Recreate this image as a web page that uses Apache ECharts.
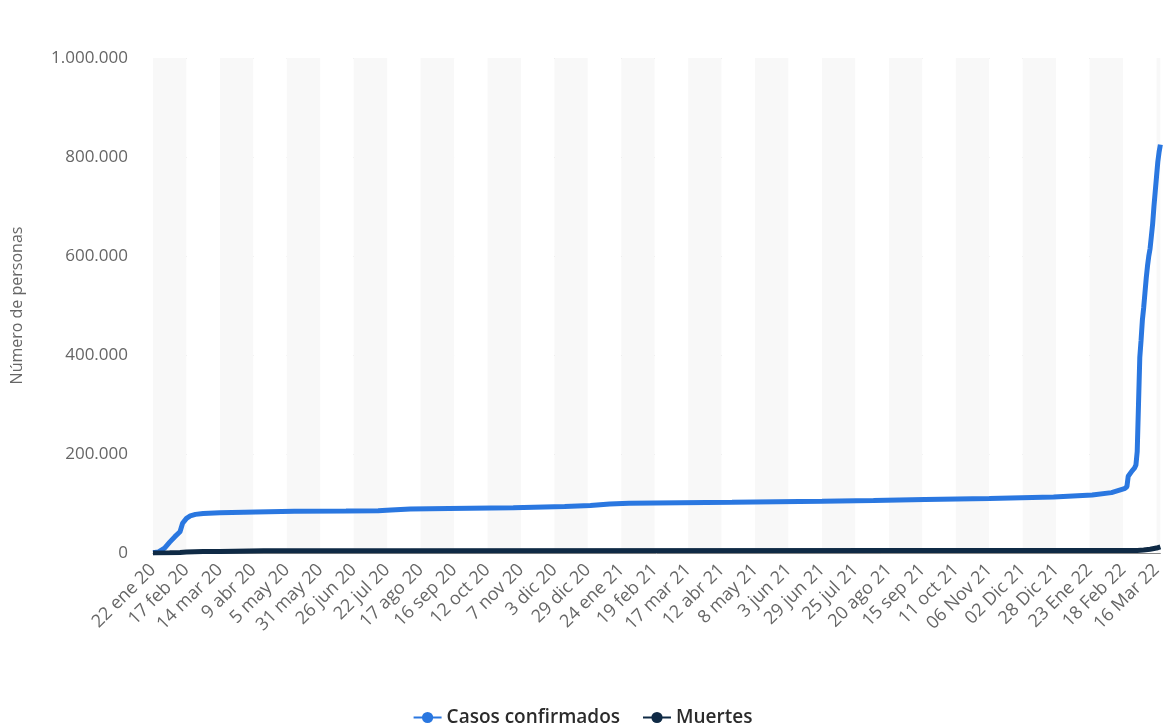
<!DOCTYPE html>
<html>
<head>
<meta charset="utf-8">
<script src="https://cdn.jsdelivr.net/npm/echarts@6/dist/echarts.min.js"></script>
<style>
html,body{margin:0;padding:0;background:#fff;}
#chart{width:1165px;height:725px;}
</style>
</head>
<body>
<div id="chart"></div>
<script>
// Tick labels (one every 26 data points)
var tickLabels = ['22 ene 20','17 feb 20','14 mar 20','9 abr 20','5 may 20','31 may 20','26 jun 20','22 jul 20','17 ago 20','16 sep 20','12 oct 20','7 nov 20','3 dic 20','29 dic 20','24 ene 21','19 feb 21','17 mar 21','12 abr 21','8 may 21','3 jun 21','29 jun 21','25 jul 21','20 ago 21','15 sep 21','11 oct 21','06 Nov 21','02 Dic 21','28 Dic 21','23 Ene 22','18 Feb 22','16 Mar 22'];
var pointsPerTick = 26;
var lastIndex = 783;

// Casos confirmados: data-point index and value
var casosIdx = [0,4,9,13,17,21,22,23,24,26,29,33,39,52,80,110,150,175,185,200,230,280,320,340,355,370,450,520,560,600,650,700,730,745,755,757,758,759,761,763,764,765,766,767,768,769,770,771,772,773,774,775,776,777,778,779,780,781,782,783];
var casosVal = [600,2000,10000,22000,33000,43000,47000,60000,64000,70000,75000,78000,80000,81500,83000,84500,85000,85500,87000,89000,90000,91500,94000,96000,99000,100500,102500,104500,106000,108000,110000,113000,117000,122000,130000,134000,155000,158000,166000,172000,178000,205000,300000,395000,430000,470000,495000,525000,555000,580000,600000,615000,640000,665000,700000,730000,760000,790000,810000,825000];

// Muertes: data-point index and value
var muertesIdx = [0,13,21,26,39,52,86,200,600,740,755,765,770,775,780,783];
var muertesVal = [17,490,1110,1870,2900,3180,4600,4700,4850,4900,5000,5200,6000,7500,10000,12500];

function pairs(xs, ys){ return xs.map(function(x,i){ return [x, ys[i]]; }); }
function fmtThousands(v){ return String(v).replace(/\B(?=(\d{3})+(?!\d))/g, '.'); }

var chart = echarts.init(document.getElementById('chart'));
chart.setOption({
  animation: false,
  textStyle: { fontFamily: 'Open Sans' },
  grid: { left: 153, right: 1, top: 58, bottom: 172 },
  legend: {
    top: 703, left: 'center', itemGap: 22, itemWidth: 28, itemHeight: 14,
    textStyle: { fontSize: 19, color: '#2b2b2b', fontWeight: 600, fontFamily: 'Open Sans' },
    data: ['Casos confirmados', 'Muertes']
  },
  xAxis: {
    type: 'value', min: 0, max: lastIndex, interval: pointsPerTick,
    axisLine: { show: true, lineStyle: { color: '#888', width: 1 } },
    axisTick: { show: false },
    splitLine: { show: false },
    splitArea: { show: true, areaStyle: { color: ['#f8f8f8', '#ffffff'] } },
    axisLabel: {
      rotate: 45, margin: 14, fontSize: 18, color: '#666', fontFamily: 'Open Sans',
      showMaxLabel: false,
      formatter: function(v){ return (v % pointsPerTick === 0) ? (tickLabels[v / pointsPerTick] || '') : ''; }
    }
  },
  yAxis: {
    type: 'value', min: 0, max: 1000000, interval: 200000,
    name: 'Número de personas', nameLocation: 'middle', nameGap: 128,
    nameTextStyle: { fontSize: 16, color: '#666', fontFamily: 'Open Sans' },
    axisLine: { show: false }, axisTick: { show: false },
    splitLine: { lineStyle: { color: '#c8c8c8', type: [2, 2], width: 1 } },
    axisLabel: { margin: 25, fontSize: 17, color: '#666', fontFamily: 'Open Sans', formatter: fmtThousands }
  },
  series: [
    { name: 'Casos confirmados', type: 'line', data: pairs(casosIdx, casosVal),
      symbol: 'circle', symbolSize: 10, showSymbol: false,
      itemStyle: { color: '#2a77e0' }, lineStyle: { color: '#2a77e0', width: 5 }, z: 2 },
    { name: 'Muertes', type: 'line', data: pairs(muertesIdx, muertesVal),
      symbol: 'circle', symbolSize: 10, showSymbol: false,
      itemStyle: { color: '#0f2a45' }, lineStyle: { color: '#0f2a45', width: 5 }, z: 3 }
  ]
});
</script>
</body>
</html>
